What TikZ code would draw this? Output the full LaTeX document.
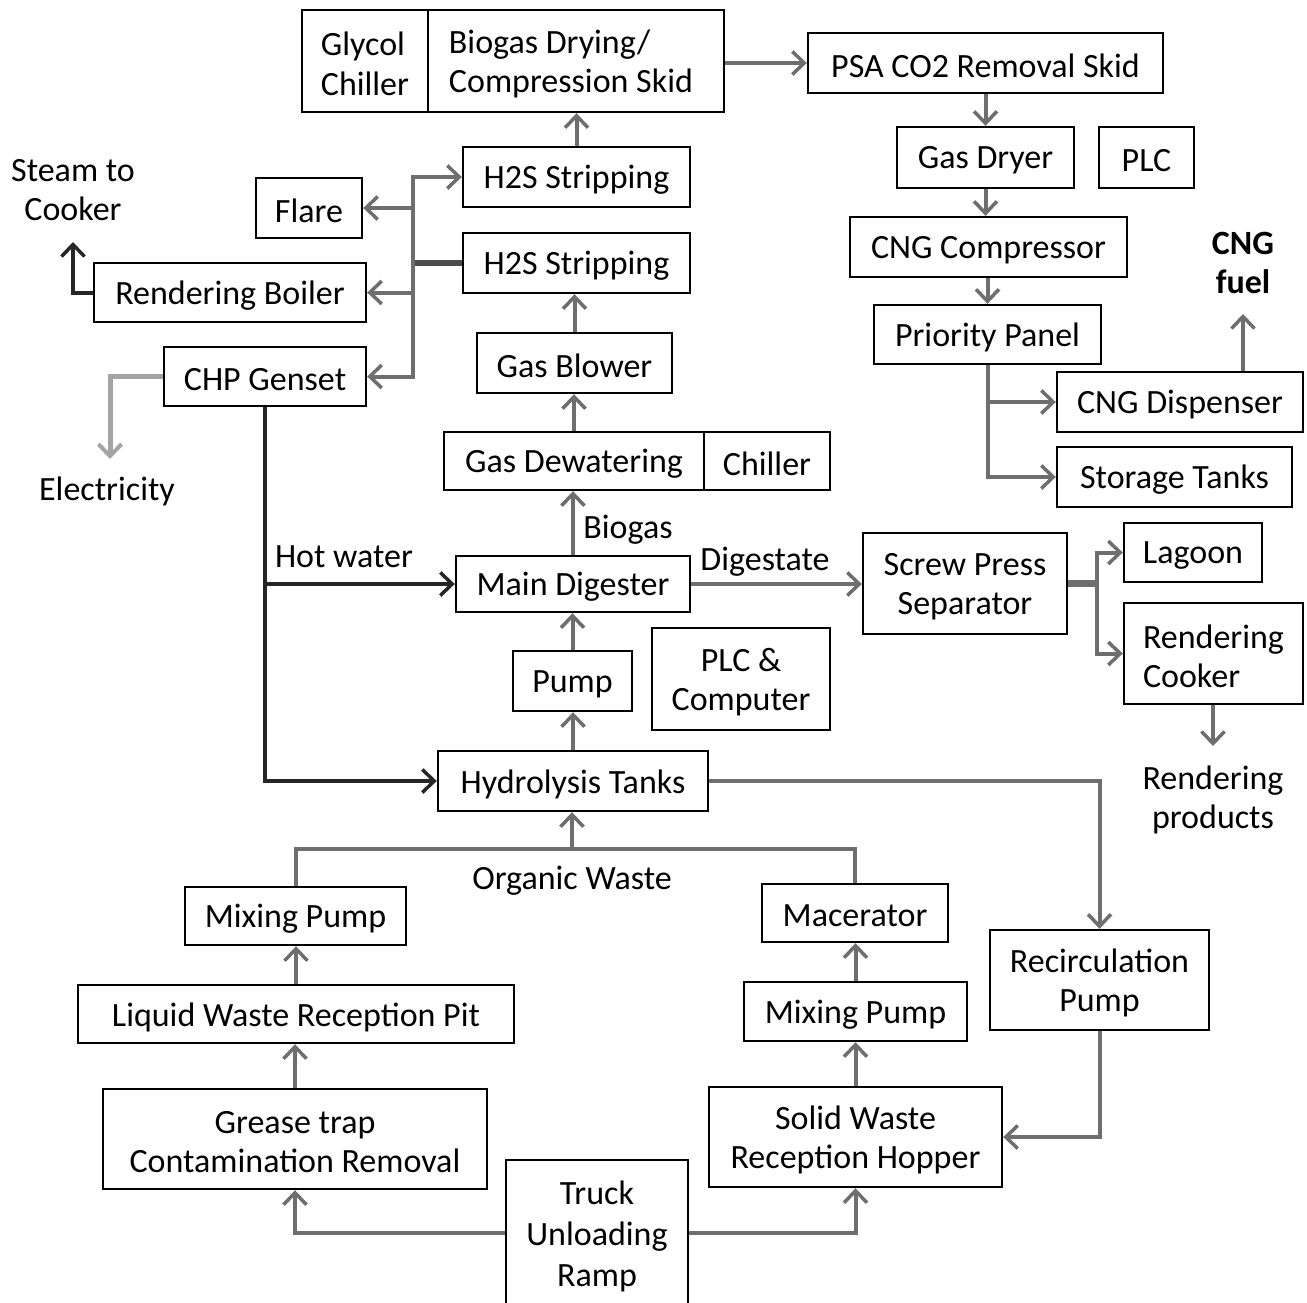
\documentclass[tikz,border=0pt]{standalone}
\usepackage{fontspec}
\setmainfont{Carlito}
\usetikzlibrary{arrows.meta}
\definecolor{flowgray}{HTML}{6E6E6E}
\definecolor{lightflow}{HTML}{A4A4A4}
\tikzset{
  box/.style={draw=black, line width=2.4pt, rectangle, inner sep=0pt, fill=white},
  lbl/.style={inner sep=0pt, align=center},
  txt/.style={font=\fontsize{34}{39.5}\selectfont},
  flow/.style={draw=flowgray, line width=4pt, -{Straight Barb[length=12pt,width=23pt,line width=3.5pt]}},
  plain/.style={draw=flowgray, line width=4pt},
  hotflow/.style={draw=black!85, line width=4pt, -{Straight Barb[length=12pt,width=23pt,line width=3.5pt]}},
  elecflow/.style={draw=lightflow, line width=5pt, -{Straight Barb[length=12pt,width=23pt,line width=4pt]}},
  every node/.append style={txt}
}
% \bx[text options]{name}{centre}{width}{height}{text}
\newcommand{\bx}[6][]{%
  \node[box, minimum width=#4, minimum height=#5] (#2) at (#3) {};
  \node[lbl, #1] (#2-t) at ([yshift=-3pt]#2.center) {#6};}
\begin{document}
\begin{tikzpicture}[x=1pt,y=-1pt]
\useasboundingbox (0,0) rectangle (1307,1302);
\fill[white] (0,0) rectangle (1307,1302);

% boxes
\bx[align=left]{glycol}{365,61}{126pt}{102pt}{Glycol\\Chiller}
\bx[align=left, xshift=-5pt]{skid}{576,61}{296pt}{102pt}{Biogas Drying/\\Compression Skid}
\bx{psa}{985.5,63}{355pt}{60pt}{PSA CO2 Removal Skid}
\bx{dryer}{985.5,157.5}{177pt}{61pt}{Gas Dryer}
\bx{plc}{1146.5,157.5}{95pt}{61pt}{PLC}
\bx{comp}{988.5,247}{277pt}{60pt}{CNG Compressor}
\bx{panel}{987.5,334.5}{227pt}{59pt}{Priority Panel}
\bx{disp}{1180,402}{246pt}{60pt}{CNG Dispenser}
\bx{stor}{1174.5,477}{235pt}{60pt}{Storage Tanks}
\bx{h2sa}{576.5,177}{227pt}{60pt}{H2S Stripping}
\bx{h2sb}{576.5,263}{227pt}{60pt}{H2S Stripping}
\bx{flare}{309,208}{106pt}{60pt}{Flare}
\bx{boiler}{230,292.5}{272pt}{59pt}{Rendering Boiler}
\bx{chp}{265,376.5}{202pt}{59pt}{CHP Genset}
\bx{blower}{574.5,363}{195pt}{60pt}{Gas Blower}
\bx{dewat}{574,461}{260pt}{58pt}{Gas Dewatering}
\bx{chill}{767,461}{126pt}{58pt}{Chiller}
\bx{digester}{573,584}{234pt}{56pt}{Main Digester}
\bx{screw}{965,583.5}{204pt}{101pt}{Screw Press\\Separator}
\bx{lagoon}{1193,552.5}{138pt}{59pt}{Lagoon}
\bx[align=left]{cooker}{1213.5,653.5}{179pt}{101pt}{Rendering\\Cooker}
\bx{pump}{572.5,681}{119pt}{60pt}{Pump}
\bx{plcc}{741,679}{178pt}{102pt}{PLC \&\\Computer}
\bx{hydro}{573,781}{270pt}{60pt}{Hydrolysis Tanks}
\bx{mixL}{295.5,916}{221pt}{58pt}{Mixing Pump}
\bx{macer}{855,913}{186pt}{58pt}{Macerator}
\bx{liquid}{296,1014}{436pt}{58pt}{Liquid Waste Reception Pit}
\bx{grease}{295,1139}{384pt}{100pt}{Grease trap\\Contamination Removal}
\bx{mixR}{855.5,1011.5}{223pt}{59pt}{Mixing Pump}
\bx{solid}{855.5,1137}{293pt}{100pt}{Solid Waste\\Reception Hopper}
\bx{recirc}{1099.5,980}{219pt}{100pt}{Recirculation\\Pump}
\bx[font=\fontsize{34}{41}\selectfont]{truck}{597,1233}{182pt}{146pt}{Truck\\Unloading\\Ramp}

% free labels
\node[lbl] (steam) at (73,190) {Steam to\\Cooker};
\node[lbl, font=\fontsize{34}{39.5}\selectfont\bfseries] (fuel) at (1243,263) {CNG\\fuel};
\node[lbl] (elec) at (107,491) {Electricity};
\node[lbl] (hotw) at (344,557) {Hot water};
\node[lbl] (biogas) at (628,530) {Biogas};
\node[lbl] (dig) at (765,562) {Digestate};
\node[lbl] (org) at (572,881) {Organic Waste};
\node[lbl] (prod) at (1213,800) {Rendering\\products};

% coordinates
\coordinate (steamend) at (73,242);
\coordinate (fuelend) at (1243,314);
\coordinate (elecend) at (110,459);
\coordinate (prodend) at (1213,746);
\coordinate (man) at (413,263);
\coordinate (sj) at (1097,583.5);
\coordinate (ow) at (572,849);

% main gas path
\draw[flow] (hydro.north) -- (hydro.north |- pump.south);
\draw[flow] (pump.north) -- (pump.north |- digester.south);
\draw[flow] (digester.north) -- (digester.north |- dewat.south);
\draw[flow] (dewat.north) -- (dewat.north |- blower.south);
\draw[flow] (blower.north) -- (blower.north |- h2sb.south);
\draw[flow] (h2sa.north) -- (h2sa.north |- skid.south);
\draw[flow] (skid.east |- psa.west) -- (psa.west);
\draw[flow] (psa.south) -- (dryer.north);
\draw[flow] (dryer.south) -- (dryer.south |- comp.north);
\draw[flow] (comp.south -| panel.north) -- (panel.north);
\draw[flow] (panel.south) |- (stor.west);
\draw[flow] (panel.south |- disp.west) -- (disp.west);
\draw[flow] (disp.north -| fuelend) -- (fuelend);

% manifold
\draw[draw=black!70, line width=6pt] (h2sb.west) -- (man);
\draw[flow] (man) |- (h2sa.west);
\draw[flow] (man) |- (flare.east);
\draw[flow] (man) |- (boiler.east);
\draw[flow] (man) |- (chp.east);
\draw[hotflow] (boiler.west) -| (steamend);
\draw[elecflow] (chp.west) -| (elecend);

% hot water
\draw[hotflow] (chp.south) |- (hydro.west);
\draw[hotflow] (chp.south |- digester.west) -- (digester.west);

% digestate
\draw[flow] (digester.east) -- (digester.east -| screw.west);
\draw[plain, line width=7pt] (screw.east) -- (sj);
\draw[flow] (sj) |- (lagoon.west);
\draw[flow] (sj) |- (cooker.west);
\draw[flow] (cooker.south -| prodend) -- (prodend);

% recirculation
\draw[flow] (hydro.east) -| (recirc.north);
\draw[flow] (recirc.south) |- (solid.east);

% organic waste
\draw[plain] (mixL.north) |- (ow) -| (macer.north);
\draw[flow] (ow) -- (ow |- hydro.south);
\draw[flow] (liquid.north) -- (liquid.north |- mixL.south);
\draw[flow] (grease.north) -- (grease.north |- liquid.south);
\draw[flow] (mixR.north) -- (mixR.north |- macer.south);
\draw[flow] (solid.north) -- (solid.north |- mixR.south);
\draw[flow] (truck.west) -| (grease.south);
\draw[flow] (truck.east) -| (solid.south);
\end{tikzpicture}
\end{document}
